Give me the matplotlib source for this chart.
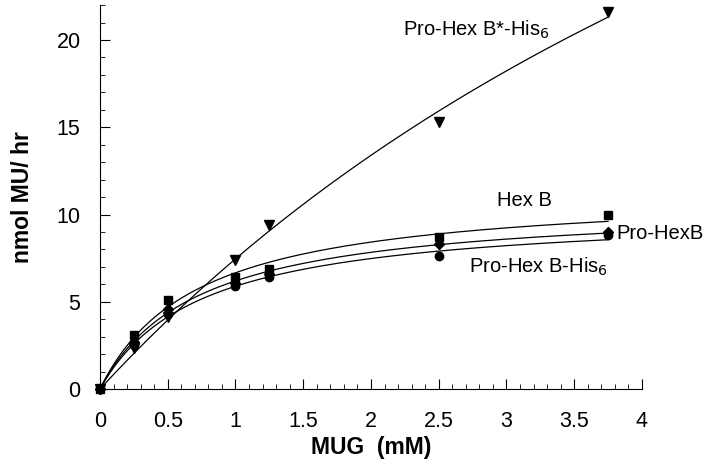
import numpy as np
import matplotlib.pyplot as plt
from matplotlib.ticker import MultipleLocator

plt.rcParams['font.family'] = ['Liberation Sans', 'DejaVu Sans']

# концентрация субстрата (мМ)
mug = [0, 0.25, 0.5, 1.0, 1.25, 2.5, 3.75]

# скорость, нмоль MU / час
hexb_star_his = [0, 2.35, 4.1, 7.4, 9.4, 15.3, 21.6]
hexb = [0, 3.1, 5.1, 6.4, 6.9, 8.7, 10.0]
pro_hexb = [0, 2.7, 4.6, 6.1, 6.6, 8.3, 9.0]
pro_hexb_his = [0, 2.5, 4.3, 5.9, 6.4, 7.6, 8.8]

series = [
    (hexb_star_his, 'v', 7),
    (hexb, 's', 6),
    (pro_hexb, 'D', 5),
    (pro_hexb_his, 'o', 6),
]


# подгонка Михаэлиса-Ментен: v = Vmax*S/(Km+S)
def mm_fit(s, v):
    s = np.array(s)
    v = np.array(v)
    best = None
    for km in np.linspace(0.05, 40, 4000):
        f = s / (km + s)
        vmax = np.sum(v * f) / np.sum(f * f)
        err = np.sum((v - vmax * f) ** 2)
        if best is None or err < best[0]:
            best = (err, vmax, km)
    return best[1], best[2]


fig = plt.figure(figsize=(7.12, 4.65), dpi=100)
ax = fig.add_axes([0.1404, 0.1634, 0.7612, 0.8256])

xs = np.linspace(0, mug[-1], 300)
for vals, mk, ms in series:
    vmax, km = mm_fit(mug, vals)
    ax.plot(xs, vmax * xs / (km + xs), color='black', lw=0.9)
    ax.plot(mug, vals, mk, color='black', ms=ms, clip_on=False)

ax.set_xlim(0, 4)
ax.set_ylim(0, 22)
ax.spines['top'].set_visible(False)
ax.spines['right'].set_visible(False)
ax.xaxis.set_major_locator(MultipleLocator(0.5))
ax.xaxis.set_minor_locator(MultipleLocator(0.1))
ax.yaxis.set_major_locator(MultipleLocator(5))
ax.yaxis.set_minor_locator(MultipleLocator(1))
ax.tick_params(which='major', direction='in', length=7, width=0.8, labelsize=15.5)
ax.tick_params(which='minor', direction='in', length=3.5, width=0.6)
ax.tick_params(axis='x', which='major', pad=16)
ax.tick_params(axis='y', which='major', pad=14)
ax.set_xticks([0, 0.5, 1, 1.5, 2, 2.5, 3, 3.5, 4])
ax.set_xticklabels(['0', '0.5', '1', '1.5', '2', '2.5', '3', '3.5', '4'])

ax.set_xlabel('MUG  (mM)', fontsize=16.5, fontweight='bold', labelpad=3)
ax.set_ylabel('nmol MU/ hr', fontsize=16.5, fontweight='bold', labelpad=16)

ax.text(2.24, 20.6, 'Pro-Hex B*-His$_6$', fontsize=14.5, va='center')
ax.text(2.93, 10.8, 'Hex B', fontsize=14.5, va='center')
ax.text(3.81, 8.9, 'Pro-HexB', fontsize=14.5, va='center', clip_on=False)
ax.text(2.72, 7.0, 'Pro-Hex B-His$_6$', fontsize=14.5, va='center')

fig.savefig('out.png', dpi=100)
